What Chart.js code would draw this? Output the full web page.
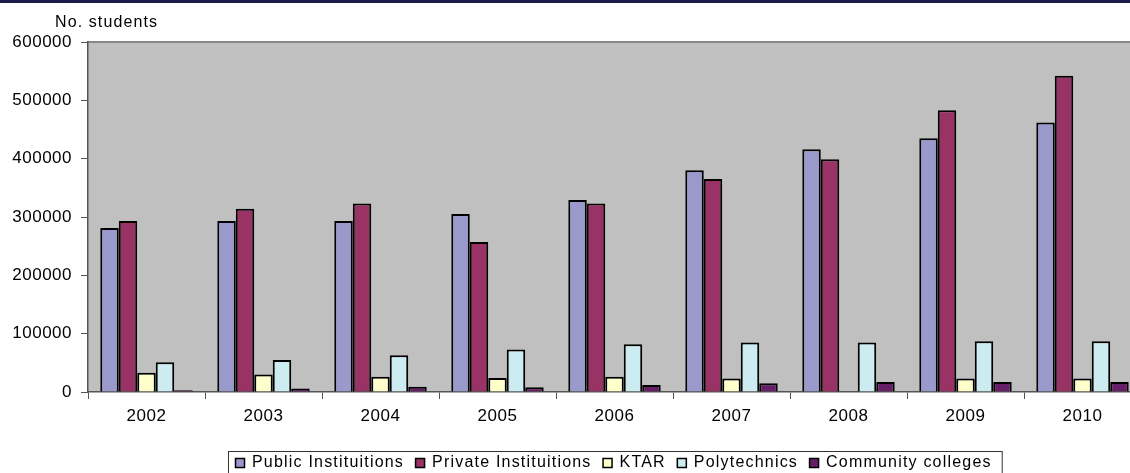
<!DOCTYPE html>
<html>
<head>
<meta charset="utf-8">
<script src="https://cdn.jsdelivr.net/npm/chart.js@4/dist/chart.umd.min.js"></script>
<style>
  html, body { margin: 0; padding: 0; background: #fff; overflow: hidden; }
  #wrap { position: relative; width: 1141px; height: 473px; }
</style>
</head>
<body>
<div id="wrap"><canvas id="c" width="1141" height="473"></canvas></div>
<script>
// Student enrolment by type of institution, 2002-2010
const years = ['2002', '2003', '2004', '2005', '2006', '2007', '2008', '2009', '2010'];
const publicInst  = [281000, 293000, 293000, 305000, 329000, 380000, 416000, 435000, 462000];
const privateInst = [293000, 314000, 323000, 257000, 323000, 365000, 399000, 483000, 542000];
const ktar        = [33000, 30000, 26000, 24000, 26000, 23000, null, 23000, 23000];
const polytech    = [51000, 55000, 63000, 73000, 82000, 85000, 85000, 87000, 87000];
const community   = [3000, 6000, 9000, 8000, 12000, 15000, 17000, 17000, 17000];
const seriesNames = ['Public Instituitions', 'Private Instituitions', 'KTAR', 'Polytechnics', 'Community colleges'];
const yAxisTitle = 'No. students';

const FONT = '"Liberation Sans", Arial, sans-serif';
const colors = ['#9999CC', '#993366', '#FFFFCC', '#CCECF2', '#661E66'];
const seriesData = [publicInst, privateInst, ktar, polytech, community];

const frame = {
  id: 'frame',
  beforeDraw(chart) {
    const { ctx, chartArea: a } = chart;
    ctx.save();
    // dark band across the top
    ctx.fillStyle = '#1B1B4B';
    ctx.fillRect(0, 0, chart.width, 3);
    // plot background
    ctx.fillStyle = '#C0C0C0';
    ctx.fillRect(a.left, a.top, a.right - a.left, a.bottom - a.top);
    // top edge of plot
    ctx.strokeStyle = '#888888';
    ctx.lineWidth = 2;
    ctx.beginPath();
    ctx.moveTo(a.left, a.top);
    ctx.lineTo(a.right, a.top);
    ctx.stroke();
    ctx.restore();
    // widen the axis label lettering
    ctx.letterSpacing = '0.5px';
  },
  afterDraw(chart) {
    const { ctx, chartArea: a } = chart;
    ctx.save();
    // axis title above the value axis
    ctx.font = '16px ' + FONT;
    ctx.letterSpacing = '1.1px';
    ctx.fillStyle = '#000';
    ctx.textAlign = 'left';
    ctx.textBaseline = 'middle';
    ctx.fillText(yAxisTitle, 55, 23);

    // legend, boxed and centred under the plot
    ctx.font = '16px ' + FONT;
    ctx.letterSpacing = '1.2px';
    const items = chart.data.datasets.map(ds => ({
      label: ds.label, color: ds.backgroundColor, w: ctx.measureText(ds.label).width
    }));
    const mark = 11, gapText = 6, gapItem = 11, padL = 7, padR = 10;
    let total = padL + padR + gapItem * (items.length - 1);
    items.forEach(it => { total += mark + gapText + it.w; });
    const cx = (a.left + a.right) / 2;
    let x = Math.round(cx - total / 2);
    const top = 451;
    ctx.strokeStyle = '#333';
    ctx.lineWidth = 1;
    ctx.strokeRect(x + 0.5, top + 0.5, total, 40);
    x += padL;
    const cy = 463;
    items.forEach(it => {
      ctx.fillStyle = it.color;
      ctx.fillRect(x, cy - 5, mark - 1, 10);
      ctx.strokeStyle = '#000';
      ctx.lineWidth = 1.5;
      ctx.strokeRect(x + 0.5, cy - 4.5, mark - 2, 9);
      ctx.fillStyle = '#000';
      ctx.fillText(it.label, x + mark + gapText, cy);
      x += mark + gapText + it.w + gapItem;
    });
    ctx.restore();
  }
};

new Chart(document.getElementById('c'), {
  type: 'bar',
  data: {
    labels: years,
    datasets: seriesNames.map((name, i) => ({
      label: name,
      data: seriesData[i],
      backgroundColor: colors[i],
      borderColor: '#000',
      borderWidth: 2,
      borderSkipped: 'bottom',
      categoryPercentage: 0.79,
      barPercentage: 1.0
    }))
  },
  options: {
    responsive: false,
    animation: false,
    devicePixelRatio: 1,
    layout: { padding: { top: 42, left: 0, right: 0, bottom: 0 } },
    plugins: { legend: { display: false }, tooltip: { enabled: false }, title: { display: false } },
    scales: {
      x: {
        grid: { offset: true, drawOnChartArea: false, drawTicks: true, tickLength: 7, color: '#555', lineWidth: 1 },
        border: { display: true, color: '#555', width: 1.5 },
        ticks: { color: '#000', font: { family: FONT, size: 17 }, padding: 7, maxRotation: 0 },
        afterFit(scale) { scale.height = 81; }
      },
      y: {
        min: 0, max: 600000,
        grid: { drawOnChartArea: false, drawTicks: true, tickLength: 7, color: '#555', lineWidth: 1 },
        border: { display: true, color: '#555', width: 1.5 },
        ticks: {
          stepSize: 100000, color: '#000', font: { family: FONT, size: 17 }, padding: 9,
          callback: v => String(v)
        },
        afterFit(scale) { scale.width = 88; }
      }
    }
  },
  plugins: [frame]
});
</script>
</body>
</html>
